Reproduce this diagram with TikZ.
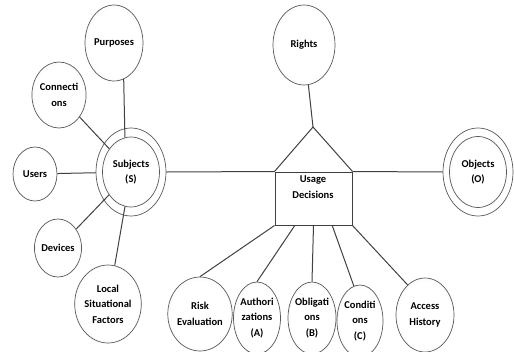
\documentclass[tikz,border=0pt]{standalone}
\usepackage{fontspec}
\setmainfont{Carlito}
\usepackage{tikz}
\usetikzlibrary{calc}
\usetikzlibrary{shapes.geometric}

\pgfdeclareradialshading{soft}{\pgfpoint{0bp}{0bp}}{color(0bp)=(white); color(22bp)=(white); color(40bp)=(black!11); color(50bp)=(black!15)}

\tikzset{
  bubble/.style={ellipse,draw=black!65,line width=0.7pt,inner sep=0pt,align=center,
    shading=soft,
    font=\bfseries\fontsize{10.5}{15.5}\selectfont},
  ring/.style={ellipse,draw=black!65,line width=0.7pt,inner sep=0pt},
  link/.style={black!75,line width=1pt}
}

\begin{document}
\begin{tikzpicture}[x=1pt,y=-1pt]
\useasboundingbox (0,0) rectangle (514,351);

% Subjects and what hangs off it
\node[ring,fill=white,minimum width=70,minimum height=88] (subjout) at (131,172) {};
\node[bubble,minimum width=57,minimum height=70] (subj) at (131,172) {Subjects\\(S)};
\node[bubble,minimum width=58,minimum height=76] (purp) at (114,43) {Purposes};
\node[bubble,minimum width=54,minimum height=66] (conn) at (59,95) {Connecti\\ons};
\node[bubble,minimum width=44,minimum height=54] (users) at (35,174) {Users};
\node[bubble,minimum width=47,minimum height=58] (dev) at (58,248) {Devices};
\node[bubble,minimum width=62,minimum height=78] (local) at (108,304) {Local\\Situational\\Factors};

% Objects
\node[ring,fill=white,minimum width=70,minimum height=88] (objout) at (478,172) {};
\node[bubble,minimum width=57,minimum height=71] (obj) at (478,172) {Objects\\(O)};

% Rights
\node[bubble,minimum width=62,minimum height=80] (rights) at (304,45) {Rights};

% Usage decisions (house)
\node[draw=black!75,line width=1pt,minimum width=77,minimum height=53] (usage) at (313.5,198.5) {};
\coordinate (apex) at (313,127);
\node[font=\bfseries\fontsize{10.5}{15.5}\selectfont,align=center] (usagelbl) at (313,187) {Usage\\Decisions};

% bottom row
\node[bubble,minimum width=62,minimum height=74] (risk) at (200,314) {Risk\\Evaluation};
\node[bubble,minimum width=46,minimum height=72] (auth) at (257,318) {Authori\\zations\\(A)};
\node[bubble,minimum width=46,minimum height=72] (oblig) at (312,318) {Obligati\\ons\\(B)};
\node[bubble,minimum width=46,minimum height=72] (cond) at (360,321) {Conditi\\ons\\(C)};
\node[bubble,minimum width=58,minimum height=74] (access) at (425,315) {Access\\History};

\draw[link] (usage.north west) -- (apex) -- (usage.north east);	% roof
\draw[link] (apex) -- (rights);

\draw[link] (purp.-75) -- (subj.100);
\draw[link] (conn) -- (subj);
\draw[link] (users) -- (subjout);
\draw[link] (dev) -- (subj);
\draw[link] (local) -- (subj);

\draw[link] (subjout.east) -- (usage.north west);	% to the house
\draw[link] (usage.north east) -- (objout.west);

\draw[link] (usage.south west) -- (risk.north);
\draw[link] ($(usage.south west)!0.26!(usage.south east)$) -- (auth.north);
\draw[link] ($(usage.south west)!0.5!(usage.south east)$) -- (oblig.north);
\draw[link] ($(usage.south west)!0.74!(usage.south east)$) -- (cond.100);
\draw[link] (usage.south east) -- (access.120);

\end{tikzpicture}
\end{document}
